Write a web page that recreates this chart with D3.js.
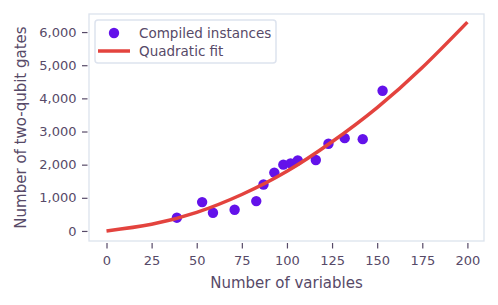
<!DOCTYPE html>
<html>
<head>
<meta charset="utf-8">
<script src="https://cdn.jsdelivr.net/npm/d3@7"></script>
<style>
  body { margin: 0; background: #fff; }
  svg text { font-family: "DejaVu Sans", sans-serif; fill: #574a68; }
</style>
</head>
<body>
<div id="chart"></div>
<script>
// compiled instances
var vars  = [39, 53, 59, 71, 83, 87, 93, 98, 102, 106, 116, 123, 132, 142, 153]
var gates = [400, 870, 550, 640, 900, 1400, 1760, 2000, 2040, 2130, 2140, 2630, 2800, 2770, 4230]

// quadratic fit curve
var fitX = [0, 25, 50, 75, 100, 125, 150, 175, 200]
var fitY = [0, 200, 560, 1100, 1800, 2690, 3720, 4930, 6300]

var xTicks = [0, 25, 50, 75, 100, 125, 150, 175, 200]
var yTicks = [0, 1000, 2000, 3000, 4000, 5000, 6000]

var W = 498, H = 305
var frame = {left: 89, top: 14, right: 484, bottom: 241}
var textColor = "#574a68"

var svg = d3.select("#chart").append("svg")
    .attr("width", W)
    .attr("height", H)

var x = d3.scaleLinear().domain([-9.7, 209.2]).range([frame.left, frame.right])
var y = d3.scaleLinear().domain([-303, 6545]).range([frame.bottom, frame.top])

// frame
svg.append("rect")
    .attr("x", frame.left)
    .attr("y", frame.top)
    .attr("width", frame.right - frame.left)
    .attr("height", frame.bottom - frame.top)
    .attr("fill", "none")
    .attr("stroke", "#dce3ed")
    .attr("stroke-width", 1.3)

// axes
var xAxis = svg.append("g")
    .attr("transform", "translate(0," + (frame.bottom + 2) + ")")
    .call(d3.axisBottom(x).tickValues(xTicks).tickSize(5.5).tickSizeOuter(0).tickPadding(7.5))
var yAxis = svg.append("g")
    .attr("transform", "translate(" + (frame.left - 1.5) + ",0)")
    .call(d3.axisLeft(y).tickValues(yTicks).tickFormat(d3.format(",")).tickSize(5.5).tickSizeOuter(0).tickPadding(5.5))

svg.selectAll(".domain").remove()
svg.selectAll(".tick line").attr("stroke", textColor).attr("stroke-width", 1.2)
svg.selectAll(".tick text").attr("font-size", 13).style("fill", textColor)

// axis titles
svg.append("text")
    .attr("x", (frame.left + frame.right) / 2)
    .attr("y", 288)
    .attr("text-anchor", "middle")
    .attr("font-size", 15)
    .text("Number of variables")

svg.append("text")
    .attr("transform", "translate(25.5," + ((frame.top + frame.bottom) / 2) + ") rotate(-90)")
    .attr("text-anchor", "middle")
    .attr("font-size", 15)
    .text("Number of two-qubit gates")

// points
svg.append("g").selectAll("circle")
    .data(vars)
    .join("circle")
    .attr("cx", function(d){ return x(d) })
    .attr("cy", function(d, i){ return y(gates[i]) })
    .attr("r", 5.2)
    .attr("fill", "#6312ea")

// fit line
var line = d3.line()
    .x(function(d){ return x(d) })
    .y(function(d, i){ return y(fitY[i]) })
    .curve(d3.curveNatural)

svg.append("path")
    .datum(fitX)
    .attr("d", line)
    .attr("fill", "none")
    .attr("stroke", "#e3433e")
    .attr("stroke-width", 3.5)

// legend
var legend = svg.append("g")
legend.append("rect")
    .attr("x", 95).attr("y", 20)
    .attr("width", 181).attr("height", 43)
    .attr("rx", 3)
    .attr("fill", "white")
    .attr("fill-opacity", 0.85)
    .attr("stroke", "#dde3ee")
    .attr("stroke-width", 1.5)
legend.append("circle")
    .attr("cx", 114).attr("cy", 33).attr("r", 5.2)
    .attr("fill", "#6312ea")
legend.append("line")
    .attr("x1", 98).attr("x2", 130)
    .attr("y1", 51).attr("y2", 51)
    .attr("stroke", "#e3433e")
    .attr("stroke-width", 3.5)
legend.selectAll("text.lab")
    .data(["Compiled instances", "Quadratic fit"])
    .join("text")
    .attr("class", "lab")
    .attr("x", 139)
    .attr("y", function(d, i){ return 33 + i * 18 })
    .attr("dy", "0.35em")
    .attr("font-size", 13.5)
    .text(function(d){ return d })
</script>
</body>
</html>
